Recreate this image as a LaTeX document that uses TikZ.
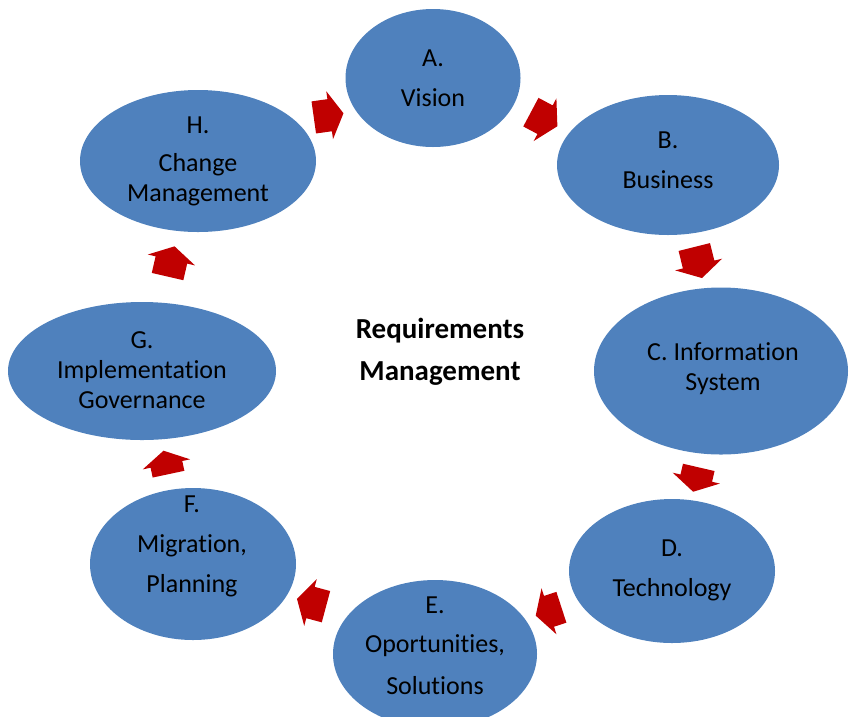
\documentclass[tikz,border=0pt]{standalone}
\usepackage{fontspec}
\setmainfont{Carlito}[Ligatures=NoCommon]
\usetikzlibrary{shapes.geometric,shapes.arrows}
\definecolor{phaseblue}{HTML}{4F81BD}
\definecolor{arrowred}{HTML}{C00000}
\tikzset{
  phase/.style={ellipse, fill=phaseblue, draw=none, inner sep=0pt},
  phasetext/.style={align=center, text=black, inner sep=0pt, font=\fontsize{26}{30}\selectfont},
  flow/.style={single arrow, fill=arrowred, draw=none, inner xsep=0pt, inner ysep=16pt,
    single arrow head extend=8pt, single arrow tip angle=120},
}
\begin{document}
\begin{tikzpicture}[x=1pt,y=-1pt]
\useasboundingbox (0,0) rectangle (850,716);
% ellipses
\node[phase, minimum width=175pt, minimum height=138pt] (A) at (433,78) {};
\node[phase, minimum width=222pt, minimum height=140pt] (B) at (668,165) {};
\node[phase, minimum width=254pt, minimum height=167pt] (C) at (721,371) {};
\node[phase, minimum width=206pt, minimum height=144pt] (D) at (672,571) {};
\node[phase, minimum width=204pt, minimum height=148pt] (E) at (435,654) {};
\node[phase, minimum width=206pt, minimum height=152pt] (F) at (193,564) {};
\node[phase, minimum width=268pt, minimum height=138pt] (G) at (142,371) {};
\node[phase, minimum width=236pt, minimum height=142pt] (H) at (198,161) {};
% texts
\node[phasetext] (tA) at (433,78) {A.\\[10pt]Vision};
\node[phasetext] (tB) at (668,160) {B.\\[10pt]Business};
\node[phasetext] (tC) at (723,369) {C. Information\\System};
\node[phasetext] (tD) at (672,570) {D.\\[10pt]Technology};
\node[phasetext] (tE) at (435,646) {E.\\[9pt]Oportunities,\\[12pt]Solutions};
\node[phasetext] (tF) at (192,546) {F.\\[10pt]Migration,\\[10pt]Planning};
\node[phasetext] (tG) at (142,370) {G.\\Implementation\\Governance};
\node[phasetext] (tH) at (198,161) {H.\\[8pt]Change\\Management};
\node[align=center, inner sep=0pt, font=\fontsize{29}{42}\selectfont\bfseries] (RM) at (440,352) {Requirements\\Management};
% arrows
\node[flow, minimum height=30pt, rotate=8] (a1) at (324,116) {};
\node[flow, minimum height=30pt, rotate=-28] (a2) at (540,117) {};
\node[flow, minimum height=32pt, rotate=-76] (a3) at (697,258) {};
\node[flow, minimum height=25pt, rotate=-103] (a4) at (697,475) {};
\node[flow, minimum height=27pt, rotate=198] (a5) at (553,610) {};
\node[flow, minimum height=30pt, rotate=165] (a6) at (316,604) {};
\node[flow, minimum height=24pt, rotate=102] (a7) at (167,467) {};
\node[flow, minimum height=31pt, rotate=77] (a8) at (170,266) {};
\end{tikzpicture}
\end{document}
